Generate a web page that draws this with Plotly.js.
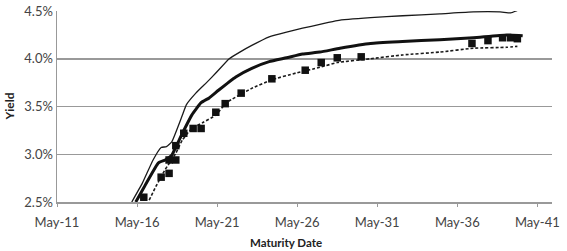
<!DOCTYPE html>
<html>
<head>
<meta charset="utf-8">
<script src="https://cdn.plot.ly/plotly-3.0.1.min.js"></script>
<style>html,body{margin:0;padding:0;background:#fff;}#chart{width:567px;height:251px;}</style>
</head>
<body>
<div id="chart"></div>
<script>
// Upper thin curve
const upperDates = ['2016-01-01','2016-09-01','2017-05-01','2017-11-01','2018-03-01','2018-07-01','2019-03-01','2019-06-01','2020-01-01','2020-09-01','2021-04-01','2022-02-01','2022-10-01','2023-07-01','2024-08-01','2025-09-01','2026-09-01','2027-10-01','2028-11-01','2030-12-01','2032-12-01','2035-04-01','2037-05-01','2039-01-01','2039-09-01','2040-01-01','2040-04-01'];
const upperYield = [2.50,2.70,2.94,3.07,3.08,3.13,3.41,3.52,3.64,3.75,3.85,4.00,4.07,4.14,4.23,4.28,4.32,4.36,4.40,4.43,4.45,4.47,4.49,4.49,4.48,4.50,4.52];

// Middle thick curve
const midDates = ['2016-04-01','2016-12-01','2017-09-01','2018-02-01','2018-07-01','2019-03-01','2019-10-01','2020-05-01','2020-11-01','2021-06-01','2022-07-01','2023-07-01','2024-08-01','2025-09-01','2026-09-01','2027-10-01','2029-01-01','2030-12-01','2032-12-01','2035-04-01','2037-05-01','2039-06-01','2040-06-01'];
const midYield = [2.50,2.70,2.91,2.94,2.99,3.22,3.41,3.54,3.59,3.67,3.81,3.90,3.97,4.01,4.05,4.07,4.11,4.16,4.18,4.20,4.22,4.25,4.24];

// Dotted fitted curve
const fitDates = ['2017-02-01','2017-07-01','2018-02-01','2018-10-01','2019-03-01','2019-10-01','2020-06-01','2021-04-01','2021-12-01','2023-07-01','2024-10-01','2026-04-01','2027-10-01','2028-11-01','2030-12-01','2032-12-01','2035-04-01','2037-05-01','2039-06-01','2040-02-01'];
const fitYield = [2.52,2.66,2.84,3.01,3.15,3.27,3.33,3.41,3.54,3.69,3.78,3.85,3.91,3.96,4.00,4.04,4.07,4.11,4.12,4.13];

// Observed squares
const obsDates = ['2016-10-01','2017-11-01','2018-05-01','2018-05-01','2018-10-01','2018-10-01','2019-04-01','2019-11-01','2020-05-01','2021-04-01','2021-11-01','2022-11-01','2024-10-01','2026-11-01','2027-11-01','2028-11-01','2030-05-01','2037-04-01','2038-04-01','2039-03-01','2039-09-01','2040-02-01'];
const obsYield = [2.55,2.76,2.80,2.94,2.94,3.09,3.22,3.27,3.27,3.44,3.53,3.64,3.79,3.88,3.96,4.01,4.02,4.16,4.19,4.22,4.22,4.21];

const xTickVals = ['2011-05-01','2016-05-01','2021-05-01','2026-05-01','2031-05-01','2036-05-01','2041-05-01'];
const xTickText = ['May-11','May-16','May-21','May-26','May-31','May-36','May-41'];
const yTickVals = [2.5,3.0,3.5,4.0,4.5];
const yTickText = ['2.5%','3.0%','3.5%','4.0%','4.5%'];

const traces = [
  {x: upperDates, y: upperYield, mode:'lines', line:{color:'#1a1a1a', width:1.3, shape:'spline', smoothing:0.4}, hoverinfo:'skip'},
  {x: fitDates, y: fitYield, mode:'lines', line:{color:'#1a1a1a', width:1.6, dash:'3px,2px', shape:'spline', smoothing:0.4}, hoverinfo:'skip'},
  {x: midDates, y: midYield, mode:'lines', line:{color:'#111', width:3, shape:'spline', smoothing:0.4}, hoverinfo:'skip'},
  {x: obsDates, y: obsYield, mode:'markers', marker:{symbol:'square', color:'#111', size:7.5}, hoverinfo:'skip'}
];

const font = 'Lato, "Open Sans", sans-serif';
const layout = {
  width:567, height:251,
  margin:{l:57, r:15, t:11, b:49},
  paper_bgcolor:'#fff', plot_bgcolor:'#fff',
  showlegend:false,
  font:{family:font, size:12, color:'#444'},
  xaxis:{type:'date', range:['2011-05-01','2042-04-01'], tickvals:xTickVals, ticktext:xTickText,
    showgrid:false, zeroline:false, showline:true, linecolor:'#999', linewidth:1.5,
    ticks:'outside', ticklen:3, tickcolor:'#999', ticklabelstandoff:5, tickfont:{family:font, size:13, color:'#444'}},
  yaxis:{range:[2.5,4.5], tickvals:yTickVals, ticktext:yTickText,
    showgrid:true, gridcolor:'#999', gridwidth:1.5, zeroline:false, showline:true, linecolor:'#999', linewidth:1.5,
    ticks:'', tickfont:{family:font, size:13, color:'#444'}},
  annotations:[
    {text:'<b>Yield</b>', textangle:-90, xref:'paper', yref:'paper', x:-0.095, y:0.5, xanchor:'center', yanchor:'middle', showarrow:false, font:{family:font, size:12, color:'#222'}},
    {text:'<b>Maturity Date</b>', xref:'paper', yref:'paper', x:0.463, y:-0.165, xanchor:'center', yanchor:'top', showarrow:false, font:{family:font, size:11.5, color:'#222'}}
  ]
};
Plotly.newPlot('chart', traces, layout, {staticPlot:true, displayModeBar:false});
</script>
</body>
</html>
